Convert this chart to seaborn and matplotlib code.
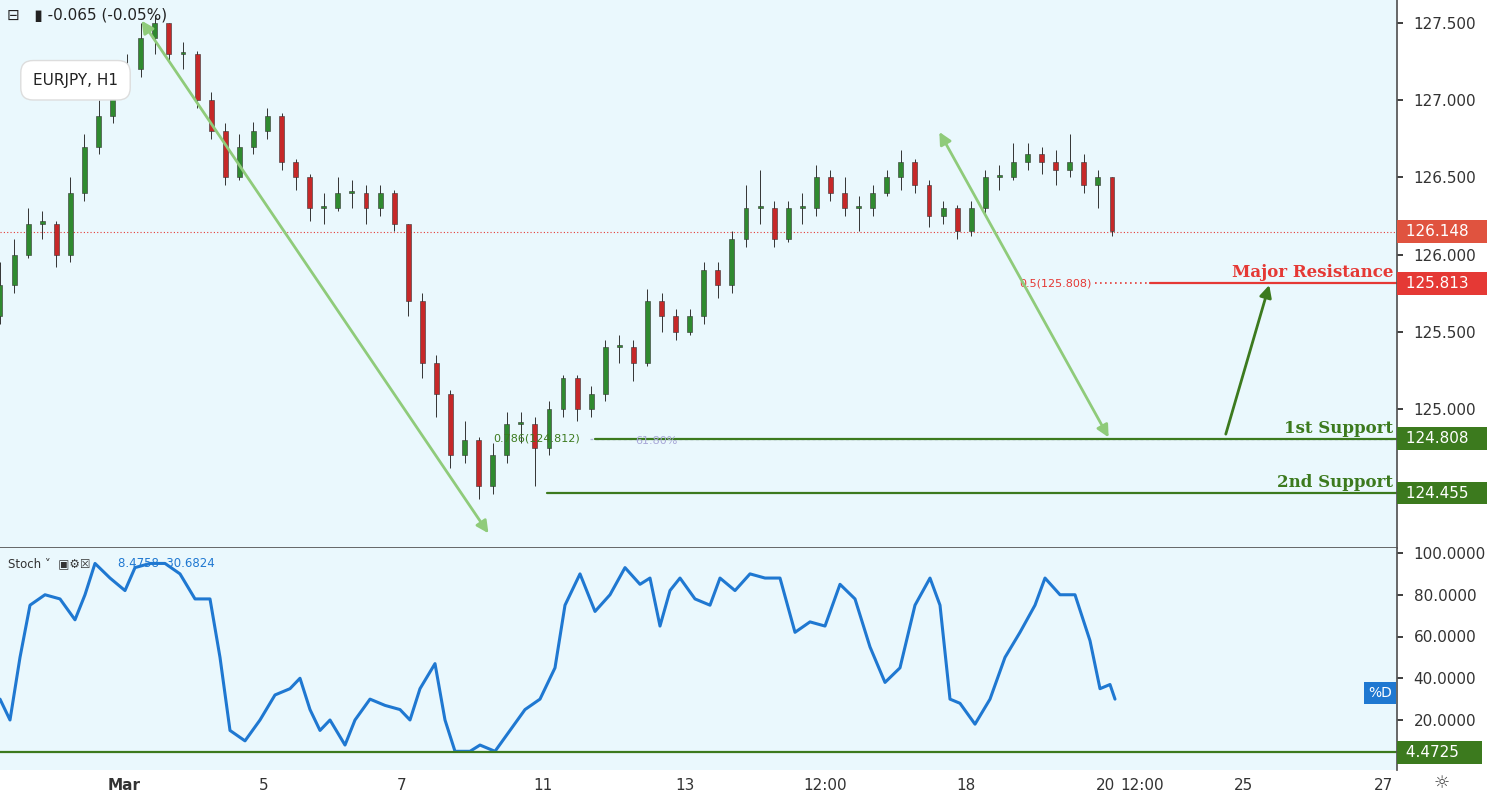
import numpy as np
import pandas as pd
import matplotlib
matplotlib.use("Agg")
import matplotlib.pyplot as plt
import seaborn as sns

# price path (4h-ish candles, evenly spaced)
closes = [125.8, 126.0, 126.2, 126.2, 126.0, 126.4, 126.7, 126.9, 127.1, 127.2, 127.4, 127.5,
          127.3, 127.3, 127.0, 126.8, 126.5, 126.7, 126.8, 126.9, 126.6, 126.5, 126.3, 126.3,
          126.4, 126.4, 126.3, 126.4, 126.2, 125.7, 125.3, 125.1, 124.7, 124.8, 124.5, 124.7,
          124.9, 124.9, 124.75, 125.0, 125.2, 125.0, 125.1, 125.4, 125.4, 125.3, 125.7, 125.6,
          125.5, 125.6, 125.9, 125.8, 126.1, 126.3, 126.3, 126.1, 126.3, 126.3, 126.5, 126.4,
          126.3, 126.3, 126.4, 126.5, 126.6, 126.45, 126.25, 126.3, 126.15, 126.3, 126.5, 126.5,
          126.6, 126.65, 126.6, 126.55, 126.6, 126.45, 126.5, 126.15]
highs = [125.95, 126.1, 126.3, 126.28, 126.22, 126.5, 126.78, 127.0, 127.18, 127.3, 127.5, 127.55,
         127.5, 127.38, 127.32, 127.05, 126.85, 126.78, 126.86, 126.95, 126.92, 126.62, 126.52, 126.4,
         126.5, 126.48, 126.45, 126.45, 126.42, 126.2, 125.75, 125.35, 125.12, 124.92, 124.82, 124.78,
         124.98, 124.98, 124.95, 125.05, 125.22, 125.22, 125.15, 125.45, 125.48, 125.45, 125.78, 125.75,
         125.65, 125.65, 125.95, 125.95, 126.15, 126.45, 126.55, 126.35, 126.35, 126.4, 126.58, 126.55,
         126.5, 126.38, 126.45, 126.55, 126.68, 126.62, 126.48, 126.35, 126.32, 126.35, 126.55, 126.58,
         126.72, 126.72, 126.7, 126.68, 126.78, 126.65, 126.55, 126.5]
lows = [125.55, 125.75, 125.98, 126.1, 125.92, 125.95, 126.35, 126.65, 126.85, 127.05, 127.15, 127.3,
        127.25, 127.2, 126.95, 126.75, 126.45, 126.48, 126.65, 126.75, 126.55, 126.42, 126.22, 126.2,
        126.28, 126.3, 126.2, 126.25, 126.15, 125.6, 125.2, 124.95, 124.62, 124.65, 124.42, 124.45,
        124.65, 124.78, 124.5, 124.7, 124.95, 124.92, 124.95, 125.05, 125.3, 125.18, 125.28, 125.5,
        125.45, 125.48, 125.55, 125.72, 125.75, 126.05, 126.2, 126.05, 126.08, 126.2, 126.25, 126.35,
        126.25, 126.15, 126.25, 126.38, 126.42, 126.4, 126.18, 126.2, 126.1, 126.12, 126.25, 126.42,
        126.48, 126.55, 126.52, 126.45, 126.5, 126.4, 126.3, 126.12]
open0 = 125.6

# stochastic %D trace (x in pixels of the chart -> value)
stoch_px = [0, 10, 20, 30, 45, 60, 75, 85, 95, 110, 125, 135, 150, 165, 180, 195, 210, 220, 230, 245,
            260, 275, 290, 300, 310, 320, 330, 345, 355, 370, 385, 400, 410, 420, 435, 445, 455, 470,
            480, 495, 510, 525, 540, 555, 565, 580, 595, 610, 625, 640, 650, 660, 670, 680, 695, 710,
            720, 735, 750, 765, 780, 795, 810, 825, 840, 855, 870, 885, 900, 915, 930, 940, 950, 960,
            975, 990, 1005, 1020, 1035, 1045, 1060, 1075, 1090, 1100, 1110, 1115]
stoch_val = [30, 20, 50, 75, 80, 78, 68, 80, 95, 88, 82, 93, 95, 95, 90, 78, 78, 50, 15, 10,
             20, 32, 35, 40, 25, 15, 20, 8, 20, 30, 27, 25, 20, 35, 47, 20, 5, 5,
             8, 5, 15, 25, 30, 45, 75, 90, 72, 80, 93, 85, 88, 65, 82, 88, 78, 75,
             88, 82, 90, 88, 88, 62, 67, 65, 85, 78, 55, 38, 45, 75, 88, 75, 30, 28,
             18, 30, 50, 62, 75, 88, 80, 80, 58, 35, 37, 30]

tick_days = [1.77, 3.76, 5.74, 7.76, 9.79, 11.79, 13.8, 15.79, 16.31, 17.76, 19.76]
tick_labels = ["Mar", "5", "7", "11", "13", "12:00", "18", "20", "12:00", "25", "27"]
price_ticks = [126.0, 125.5, 125.0, 126.5, 127.0, 127.5]

PX = 70.0  # pixels per day
BG = "#eaf8fd"
RED = "#e53935"
DKG = "#3c7a1e"
LTG = "#8fcb7a"

sns.set_theme(style="white")
plt.rcParams['font.family'] = ['DejaVu Sans']

fig = plt.figure(figsize=(14.89, 7.93), dpi=100)
fig.patch.set_facecolor("white")
W, H = 1489, 793
ax = fig.add_axes([0, (H - 548) / H, 1397 / W, 548 / H])
ax2 = fig.add_axes([0, 23 / H, 1397 / W, 222 / H], sharex=ax)
for a in (ax, ax2):
    a.set_facecolor(BG)
    for s in a.spines.values():
        s.set_visible(False)
    a.spines["right"].set_visible(True)
    a.spines["right"].set_color("#555555")
ax.spines["bottom"].set_visible(True)
ax.spines["bottom"].set_color("#555555")

pmin = 125.0 - 139 / 154.4
pmax = 127.5 + 23 / 154.4
ax.set_ylim(pmin, pmax)
ax.set_xlim(0, 1397 / PX)

n = len(closes)
xs = np.linspace(0, 1112, n) / PX
opens = [open0] + closes[:-1]
df = pd.DataFrame({"x": xs, "open": opens, "close": closes, "high": highs, "low": lows})
up = df["close"] >= df["open"]
for sel, col in ((up, "#2f8a2f"), (~up, "#c62828")):
    d = df[sel]
    ax.vlines(d["x"], d["low"], d["high"], color="#333333", lw=0.7, zorder=2)
    ax.bar(d["x"], (d["close"] - d["open"]).abs().clip(lower=0.015), bottom=d[["open", "close"]].min(axis=1),
           width=0.07, color=col, edgecolor="#333333", lw=0.4, zorder=3)

# current price line
ax.axhline(126.148, color=RED, lw=0.8, ls=(0, (1, 2)), zorder=1)

# levels
ax.plot([590 / PX, 1397 / PX], [124.808] * 2, color="#b0b8d8", lw=1, ls=(0, (2, 2)))
ax.text(635 / PX, 124.79, "61.80%", color="#a8a8d8", fontsize=8, va="center")
ax.plot([595 / PX, 1397 / PX], [124.808] * 2, color=DKG, lw=1.6)
ax.text(493 / PX, 124.808, "0.786(124.812)", color=DKG, fontsize=8, va="center")
ax.plot([547 / PX, 1397 / PX], [124.455] * 2, color=DKG, lw=1.6)
ax.plot([1095 / PX, 1150 / PX], [125.813] * 2, color=RED, lw=1.2, ls=(0, (1, 2)))
ax.plot([1150 / PX, 1397 / PX], [125.813] * 2, color=RED, lw=1.6)
ax.text(1092 / PX, 125.813, "0.5(125.808)", color=RED, fontsize=8, va="center", ha="right")
ax.text(1393 / PX, 125.83, "Major Resistance", color=RED, fontsize=12, fontweight="bold",
        family="DejaVu Serif", ha="right", va="bottom")
ax.text(1393 / PX, 124.82, "1st Support", color=DKG, fontsize=12, fontweight="bold",
        family="DejaVu Serif", ha="right", va="bottom")
ax.text(1393 / PX, 124.47, "2nd Support", color=DKG, fontsize=12, fontweight="bold",
        family="DejaVu Serif", ha="right", va="bottom")


# arrows
def arrow(p0, p1, col, both=True, lw=2):
    style = "<|-|>" if both else "-|>"
    ax.annotate("", xy=p1, xytext=p0,
                arrowprops=dict(arrowstyle=style, color=col, lw=lw, mutation_scale=18))


arrow((140 / PX, 127.53), (490 / PX, 124.18), LTG)
arrow((938 / PX, 126.81), (1110 / PX, 124.80), LTG)
arrow((1225 / PX, 124.82), (1270 / PX, 125.82), DKG, both=False)

# price axis
ax.yaxis.tick_right()
ax.set_yticks(price_ticks)
ax.set_yticklabels([f"{t:.3f}" for t in price_ticks], fontsize=11, color="#333333")
ax.tick_params(axis="y", length=4, pad=8)
ax.tick_params(axis="x", bottom=False, labelbottom=False)
for val, col in ((126.148, "#e0533f"), (125.813, RED), (124.808, DKG), (124.455, DKG)):
    ax.text(1.003, val, f" {val:.3f}   ", transform=ax.get_yaxis_transform(), fontsize=11, color="white",
            va="center", ha="left", bbox=dict(boxstyle="square,pad=0.25", fc=col, ec="none"), clip_on=False)

ax.text(0.1, 127.555, "\u229f   \u25ae -0.065 (-0.05%)", fontsize=11, color="#222222", va="center")
ax.text(33 / PX, 127.1, "EURJPY, H1", fontsize=11, color="#222222",
        bbox=dict(boxstyle="round,pad=0.8", fc="white", ec="#dddddd"))

# stochastic
st = pd.DataFrame({"x": np.array(stoch_px) / PX, "d": stoch_val})
sns.lineplot(data=st, x="x", y="d", ax=ax2, color="#1f78d1", lw=2.2)
ax2.axhline(4.4725, color=DKG, lw=1.6)
ax2.set_ylim(20 - 50 / 2.0875, 100 + 5 / 2.0875)
ax2.yaxis.tick_right()
sticks = [20, 40, 60, 80, 100]
ax2.set_yticks(sticks)
ax2.set_yticklabels([f"{t:.4f}" for t in sticks], fontsize=11, color="#333333")
ax2.tick_params(axis="y", length=4, pad=8)
ax2.set_ylabel("")
ax2.set_xlabel("")
ax2.text(1.003, 4.4725, " 4.4725    ", transform=ax2.get_yaxis_transform(), fontsize=11, color="white",
         va="center", bbox=dict(boxstyle="square,pad=0.25", fc=DKG, ec="none"), clip_on=False)
ax2.text(1368 / PX, 31, "%D", fontsize=10, color="white",
         bbox=dict(boxstyle="square,pad=0.3", fc="#1f78d1", ec="none"))
ax2.text(8 / PX, 95, "Stoch \u02c5  \u25a3\u2699\u2612", fontsize=8.5, color="#333333", va="center")
ax2.text(118 / PX, 95, "8.4758  30.6824", fontsize=8.5, color="#1f78d1", va="center")
ax2.set_xticks(tick_days)
ax2.set_xticklabels(tick_labels, fontsize=11, color="#333333")
ax2.get_xticklabels()[0].set_fontweight("bold")
ax2.tick_params(axis="x", length=0, pad=6)
ax2.set_xlim(0, 1397 / PX)
fig.text(1442 / W, 10 / H, "\u263c", fontsize=13, color="#444444", ha="center", va="center")

fig.savefig("out.png", dpi=100)
